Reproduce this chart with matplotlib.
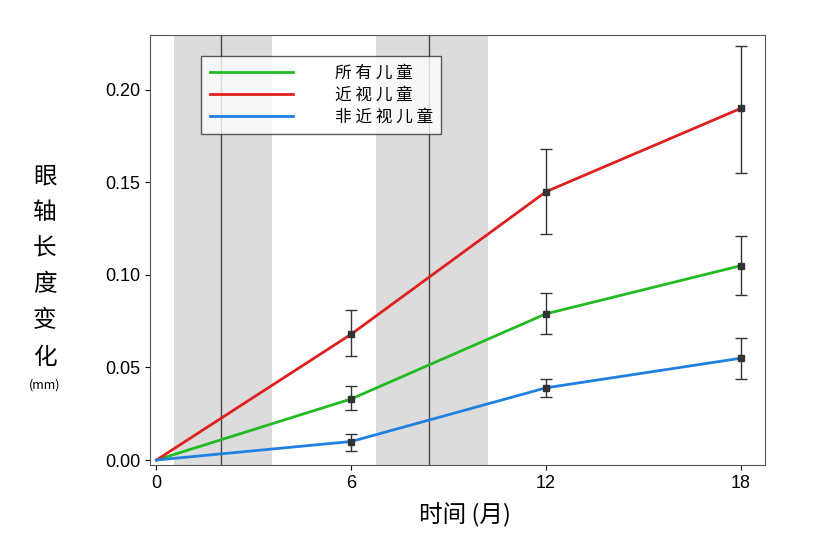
import matplotlib.pyplot as plt

plt.rcParams['font.family'] = ['Noto Sans CJK SC', 'DejaVu Sans']

months = [0, 6, 12, 18]
all_kids = [0.0, 0.033, 0.079, 0.105]
all_lo = [0.0, 0.027, 0.068, 0.089]
all_hi = [0.0, 0.040, 0.090, 0.121]
myopic = [0.0, 0.068, 0.145, 0.190]
myo_lo = [0.0, 0.056, 0.122, 0.155]
myo_hi = [0.0, 0.081, 0.168, 0.224]
non_myopic = [0.0, 0.010, 0.039, 0.055]
non_lo = [0.0, 0.005, 0.034, 0.044]
non_hi = [0.0, 0.014, 0.044, 0.066]
labels = ["所 有 儿 童", "近 视 儿 童", "非 近 视 儿 童"]
bands = [(0.55, 3.57), (6.76, 10.2)]
vlines = [2.0, 8.4]

fig = plt.figure(figsize=(8.19, 5.46), dpi=100)
ax = fig.add_axes([150/819, 81/546, 615/819, 430/546])

for a, b in bands:
    ax.axvspan(a, b, color='#dcdcdc', lw=0, zorder=0)
for v in vlines:
    ax.axvline(v, color='#444444', lw=1, zorder=1)

series = [(all_kids, all_lo, all_hi, '#22bb22'),
          (myopic, myo_lo, myo_hi, '#e02020'),
          (non_myopic, non_lo, non_hi, '#2080e0')]
for (y, lo, hi, c), lab in zip(series, labels):
    ax.plot(months, y, color=c, lw=2, label=lab, zorder=3)
    err = [[v - l for v, l in zip(y[1:], lo[1:])], [h - v for v, h in zip(y[1:], hi[1:])]]
    ax.errorbar(months[1:], y[1:], yerr=err, fmt='s', ms=4, color='#333333',
                ecolor='#333333', elinewidth=1, capsize=4, zorder=4)

ax.set_xlim(-0.2, 18.75)
ax.set_ylim(-0.0027, 0.2297)
ax.set_xticks([0, 6, 12, 18])
ax.set_yticks([0, 0.05, 0.10, 0.15, 0.20])
ax.set_yticklabels(["0.00", "0.05", "0.10", "0.15", "0.20"])
ax.tick_params(labelsize=13, direction='out')
for t in ax.get_xticklabels() + ax.get_yticklabels():
    t.set_family('Liberation Sans')
for s in ax.spines.values():
    s.set_color('#555555')

leg = ax.legend(loc='upper left', bbox_to_anchor=(0.07, 0.97), fontsize=12,
                frameon=True, fancybox=False, edgecolor='#333333',
                handlelength=5, handletextpad=2.5, borderpad=0.5, labelspacing=0.3)
leg.get_frame().set_linewidth(1)

fig.text(465/819, 1 - 515/546, "时间 (月)", fontsize=17, ha='center', va='center')
for i, ch in enumerate("眼轴长度变化"):
    fig.text(45/819, 1 - (177 + i*36)/546, ch, fontsize=17, ha='center', va='center')
fig.text(45/819, 1 - 385/546, "(mm)", fontsize=9, ha='center', va='center')

fig.savefig("out.png", dpi=100)
